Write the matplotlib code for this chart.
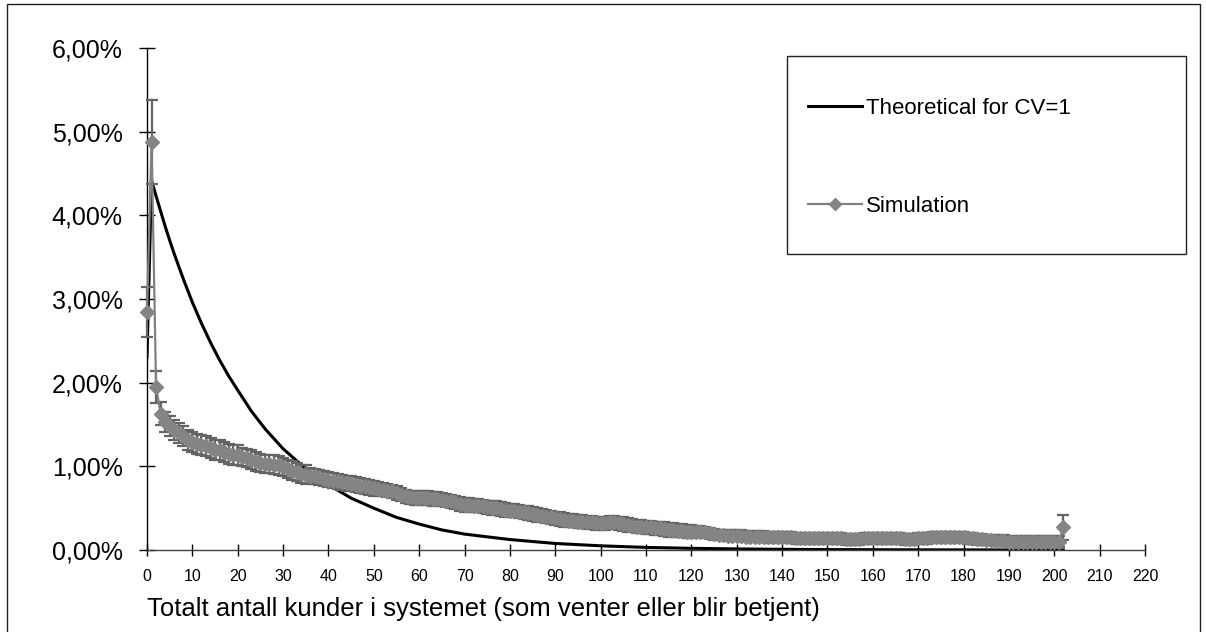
import numpy as np
import matplotlib
matplotlib.use('Agg')
import matplotlib.pyplot as plt
from matplotlib.patches import Rectangle
from matplotlib.ticker import FuncFormatter

plt.rcParams['font.family'] = ['Liberation Sans', 'DejaVu Sans']

# ---------------- data (values in percent)
theory_x = [0, 1, 2, 3, 4, 5, 6, 8, 10, 12, 14, 16, 18, 20, 23, 26, 30, 35, 40,
            45, 50, 55, 60, 65, 70, 80, 90, 100, 110, 120, 130, 140, 150, 170, 202]
theory_y = [2.31, 4.42, 4.23, 4.05, 3.87, 3.70, 3.54, 3.24, 2.96, 2.71, 2.48, 2.27,
            2.08, 1.91, 1.66, 1.45, 1.21, 0.97, 0.78, 0.62, 0.50, 0.39, 0.31, 0.24,
            0.19, 0.125, 0.078, 0.05, 0.031, 0.02, 0.013, 0.008, 0.005, 0.002, 0.0]

sim_y = [
    2.84, 4.88, 1.95, 1.63, 1.53, 1.48, 1.43, 1.40, 1.36, 1.32,
    1.29, 1.27, 1.25, 1.24, 1.22, 1.20, 1.19, 1.17, 1.15, 1.14,
    1.13, 1.11, 1.10, 1.08, 1.06, 1.04, 1.03, 1.03, 1.02, 1.01,
    0.99, 0.97, 0.95, 0.93, 0.91, 0.90, 0.89, 0.88, 0.87, 0.85,
    0.84, 0.83, 0.82, 0.81, 0.80, 0.79, 0.78, 0.77, 0.76, 0.75,
    0.74, 0.73, 0.72, 0.71, 0.70, 0.68, 0.66, 0.64, 0.63, 0.62,
    0.62, 0.62, 0.62, 0.61, 0.61, 0.60, 0.59, 0.58, 0.57, 0.55,
    0.54, 0.54, 0.53, 0.53, 0.52, 0.51, 0.50, 0.50, 0.49, 0.48,
    0.47, 0.47, 0.46, 0.45, 0.44, 0.43, 0.42, 0.41, 0.40, 0.39,
    0.38, 0.37, 0.36, 0.35, 0.35, 0.34, 0.34, 0.33, 0.33, 0.32,
    0.32, 0.32, 0.33, 0.33, 0.32, 0.31, 0.30, 0.29, 0.28, 0.28,
    0.27, 0.27, 0.26, 0.26, 0.25, 0.24, 0.24, 0.23, 0.23, 0.22,
    0.22, 0.22, 0.22, 0.21, 0.20, 0.19, 0.18, 0.18, 0.17, 0.17,
    0.17, 0.17, 0.16, 0.16, 0.16, 0.16, 0.16, 0.15, 0.15, 0.15,
    0.15, 0.15, 0.15, 0.14, 0.14, 0.14, 0.14, 0.14, 0.14, 0.14,
    0.14, 0.14, 0.14, 0.14, 0.13, 0.13, 0.13, 0.13, 0.14, 0.14,
    0.14, 0.14, 0.14, 0.14, 0.14, 0.14, 0.14, 0.13, 0.13, 0.13,
    0.14, 0.14, 0.14, 0.15, 0.15, 0.15, 0.15, 0.15, 0.15, 0.15,
    0.15, 0.14, 0.14, 0.13, 0.13, 0.12, 0.12, 0.11, 0.11, 0.11,
    0.10, 0.10, 0.10, 0.10, 0.10, 0.10, 0.10, 0.10, 0.10, 0.10,
    0.10, 0.10, 0.27]

sim_err = [
    0.30, 0.50, 0.19, 0.14, 0.12, 0.12, 0.12, 0.12, 0.12, 0.12,
    0.12, 0.12, 0.12, 0.12, 0.12, 0.12, 0.12, 0.12, 0.12, 0.12,
    0.12, 0.11, 0.11, 0.11, 0.11, 0.11, 0.11, 0.11, 0.11, 0.11,
    0.11, 0.11, 0.11, 0.11, 0.11, 0.11, 0.09, 0.09, 0.09, 0.09,
    0.09, 0.09, 0.09, 0.09, 0.09, 0.09, 0.09, 0.09, 0.09, 0.09,
    0.09, 0.08, 0.08, 0.08, 0.08, 0.08, 0.08, 0.08, 0.08, 0.08,
    0.08, 0.08, 0.08, 0.08, 0.08, 0.08, 0.08, 0.08, 0.08, 0.08,
    0.08, 0.08, 0.08, 0.08, 0.08, 0.08, 0.08, 0.08, 0.08, 0.08,
    0.08, 0.08, 0.08, 0.08, 0.08, 0.08, 0.08, 0.08, 0.08, 0.08,
    0.08, 0.08, 0.08, 0.08, 0.08, 0.08, 0.08, 0.08, 0.08, 0.08,
    0.08, 0.08, 0.08, 0.08, 0.08, 0.08, 0.08, 0.08, 0.08, 0.08,
    0.08, 0.08, 0.08, 0.08, 0.08, 0.08, 0.08, 0.08, 0.08, 0.08,
    0.08, 0.065, 0.065, 0.065, 0.065, 0.065, 0.065, 0.065, 0.065, 0.065,
    0.065, 0.065, 0.065, 0.065, 0.065, 0.065, 0.065, 0.065, 0.065, 0.065,
    0.065, 0.065, 0.065, 0.065, 0.065, 0.065, 0.065, 0.065, 0.065, 0.065,
    0.065, 0.065, 0.065, 0.065, 0.065, 0.065, 0.065, 0.065, 0.065, 0.065,
    0.065, 0.065, 0.065, 0.065, 0.065, 0.065, 0.065, 0.065, 0.065, 0.065,
    0.065, 0.065, 0.065, 0.065, 0.065, 0.065, 0.065, 0.065, 0.065, 0.065,
    0.065, 0.065, 0.065, 0.065, 0.065, 0.065, 0.065, 0.065, 0.065, 0.065,
    0.065, 0.065, 0.065, 0.065, 0.065, 0.065, 0.065, 0.065, 0.065, 0.065,
    0.065, 0.065, 0.15]
sim_x = np.arange(len(sim_y))

x_ticks = list(range(0, 221, 10))
y_ticks = [0, 1, 2, 3, 4, 5, 6]

# ---------------- figure
W, H = 1206, 632
fig = plt.figure(figsize=(W / 100, H / 100), dpi=100)
ax = fig.add_axes([147 / W, (H - 550) / H, (1145 - 147) / W, (550 - 48) / H])

th_line, = ax.plot(theory_x, theory_y, color='black', lw=2.2, zorder=2,
                   solid_joinstyle='round')
ax.errorbar(sim_x, sim_y, yerr=sim_err, fmt='none', ecolor='#646464',
            elinewidth=1.6, capsize=4, capthick=1.6, zorder=3, clip_on=False)
sim_line, = ax.plot(sim_x, sim_y, '-', color='#808080', lw=1.6, marker='D',
                    markersize=7, markerfacecolor='#848484',
                    markeredgecolor='#848484', zorder=4, clip_on=False)

ax.set_xlim(0, 220)
ax.set_ylim(0, 6)
ax.set_xticks(x_ticks)
ax.set_yticks(y_ticks)
ax.yaxis.set_major_formatter(FuncFormatter(lambda v, p: ('%.2f%%' % v).replace('.', ',')))
ax.tick_params(axis='y', direction='inout', length=11, width=1, labelsize=18, pad=12)
ax.tick_params(axis='x', direction='inout', length=9, width=1, labelsize=11.5, pad=9)

for s in ['top', 'right']:
    ax.spines[s].set_visible(False)
ax.spines['left'].set_linewidth(1)
ax.spines['bottom'].set_linewidth(1)
ax.spines['bottom'].set_color('#404040')

fig.text(147 / W, (H - 616) / H, 'Totalt antall kunder i systemet (som venter eller blir betjent)',
         fontsize=18.5, ha='left', va='baseline')

# legend: frame drawn as a separate box
fig.patches.append(Rectangle((787 / W, (H - 254) / H), (1186 - 787) / W, (254 - 56) / H,
                             transform=fig.transFigure, fill=False,
                             edgecolor='#222222', lw=1, zorder=5))
leg_sim = plt.Line2D([], [], color='#808080', lw=1.6, marker='D', markersize=6,
                     markerfacecolor='#848484', markeredgecolor='#848484')
leg = ax.legend([th_line, leg_sim], ['Theoretical for CV=1', 'Simulation'],
                loc='upper left', bbox_to_anchor=(808 / W, (H - 98) / H),
                bbox_transform=fig.transFigure, fontsize=16, frameon=False,
                borderpad=0, labelspacing=3.45, handlelength=2.43,
                handletextpad=0.2, borderaxespad=0)

# outer border of the chart area
fig.patches.append(Rectangle((7 / W, -0.05), (1200 - 7) / W, (H - 4) / H + 0.05,
                             transform=fig.transFigure, fill=False,
                             edgecolor='#222222', lw=1))

fig.savefig('out.png', dpi=100)
